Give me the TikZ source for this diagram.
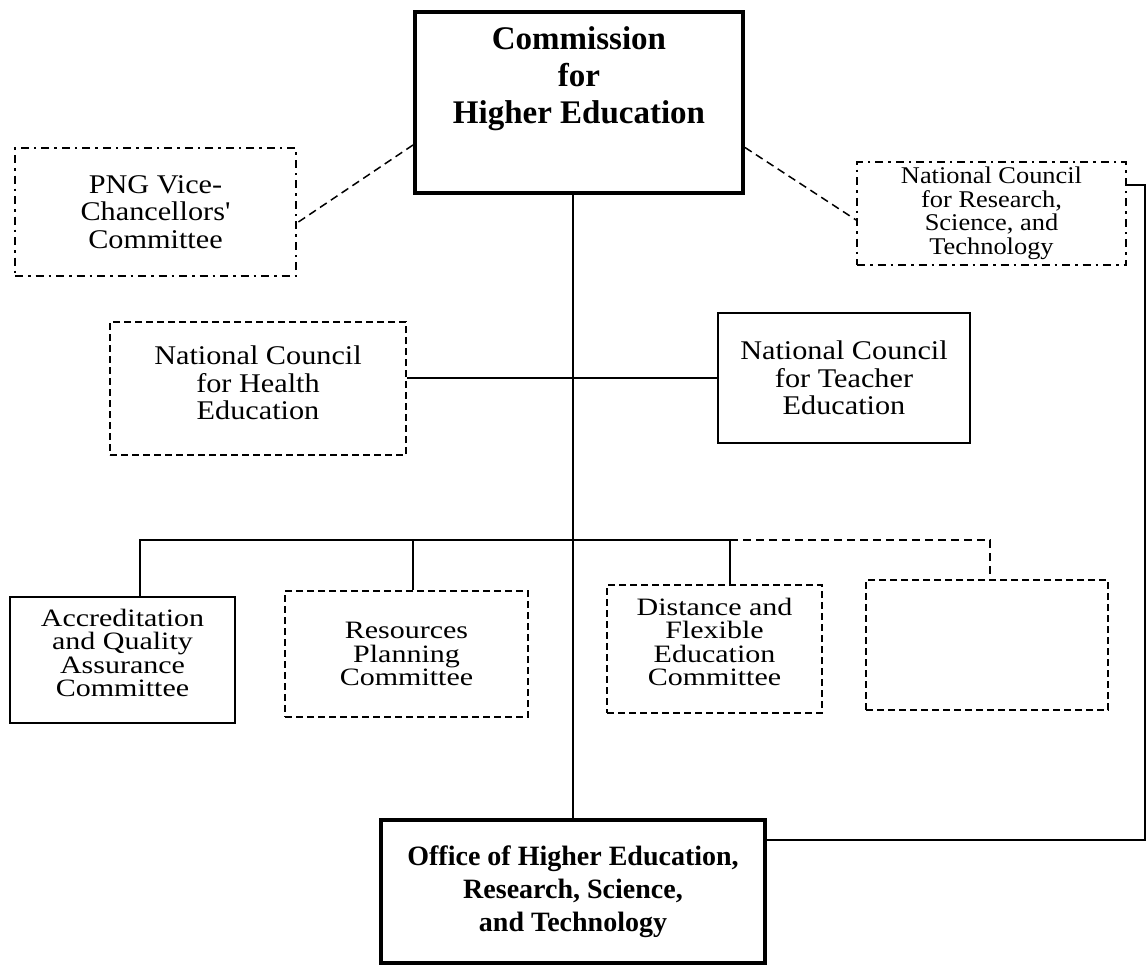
\documentclass[tikz,border=0pt]{standalone}
\usepackage{fontspec}
\setmainfont{Liberation Serif}
\newfontfamily\widefont{Liberation Serif}[FakeStretch=1.12]
\newfontfamily\comfont{Liberation Serif}[FakeStretch=1.2]
\newfontfamily\nrfont{Liberation Serif}[FakeStretch=1.1]
\begin{document}
\begin{tikzpicture}[x=1pt,y=-1pt,
  box/.style={draw, line width=1.4pt, inner sep=0pt, align=center},
  heavybox/.style={box, line width=4pt},
  dashbox/.style={box, dash pattern=on 7pt off 4pt},
  dotdashbox/.style={box, line width=1.8pt, dash pattern=on 8pt off 5pt on 2.5pt off 5pt},
  bodytext/.style={font=\widefont\fontsize{27}{27.5}\selectfont},
  comtext/.style={font=\comfont\fontsize{25}{23.5}\selectfont},
  plaintext/.style={inner sep=0pt, align=center},
  conn/.style={line width=1.4pt},
  dashconn/.style={line width=1.5pt, dash pattern=on 8pt off 5pt}
]
\useasboundingbox (0,0) rectangle (1147,966);
\fill[white] (0,0) rectangle (1147,966);

% top
\node[heavybox, minimum width=328pt, minimum height=181pt] (comm) at (579,102.5) {};
\node[plaintext, font=\bfseries\fontsize{33}{37}\selectfont] (commtxt) at (579,79) {Commission\\for\\Higher Education};

\node[dotdashbox, bodytext, minimum width=281pt, minimum height=128pt] (png) at (155.5,212) {PNG Vice-\\Chancellors'\\Committee};
\node[dotdashbox, font=\nrfont\fontsize{24}{23.5}\selectfont, minimum width=269pt, minimum height=103pt] (ncrst) at (991.5,213.5) {National Council\\for Research,\\Science, and\\Technology};

% councils
\node[dashbox, minimum width=296pt, minimum height=133pt] (nch) at (258,388.5) {};
\node[plaintext, bodytext] (nchtxt) at (258,383) {National Council\\for Health\\Education};
\node[box, bodytext, minimum width=252pt, minimum height=130pt] (nct) at (844,378) {National Council\\for Teacher\\Education};

% committees
\node[box, minimum width=225pt, minimum height=126pt] (acc) at (122.5,660) {};
\node[plaintext, comtext] (acctxt) at (122.5,653) {Accreditation\\and Quality\\Assurance\\Committee};
\node[dashbox, comtext, minimum width=243pt, minimum height=126pt] (res) at (406.5,654) {Resources\\Planning\\Committee};
\node[dashbox, minimum width=215pt, minimum height=128pt] (dist) at (714.5,649) {};
\node[plaintext, comtext] (disttxt) at (714.5,642) {Distance and\\Flexible\\Education\\Committee};
\node[dashbox, minimum width=242pt, minimum height=130pt] (blank) at (987,645) {};

% office
\node[heavybox, font=\bfseries\fontsize{28}{33}\selectfont, minimum width=384pt, minimum height=143pt] (office) at (573,891.5) {Office of Higher Education,\\Research, Science,\\and Technology};

\coordinate (bus) at (0,540);

% connectors
\draw[dashconn] ([yshift=-42.5pt]comm.west) -- ([yshift=-11pt]png.east);
\draw[dashconn] ([yshift=-45pt]comm.east) -- ([yshift=-6.5pt]ncrst.west);
\draw[conn] (comm.south -| office.north) -- (office.north);
\draw[conn] (nch.east |- nct.west) -- (nct.west);
\draw[conn] ([xshift=17.5pt]acc.north) |- ([xshift=15.5pt]dist.north |- bus) -- ([xshift=15.5pt]dist.north);
\draw[conn] ([xshift=6.5pt]res.north |- bus) -- ([xshift=6.5pt]res.north);
\draw[dashconn] ([xshift=15.5pt]dist.north |- bus) -| ([xshift=3pt]blank.north);
\draw[conn] ([yshift=51.5pt]office.east) -- ++(378,0) |- ([yshift=28.5pt]ncrst.east);
\end{tikzpicture}
\end{document}
